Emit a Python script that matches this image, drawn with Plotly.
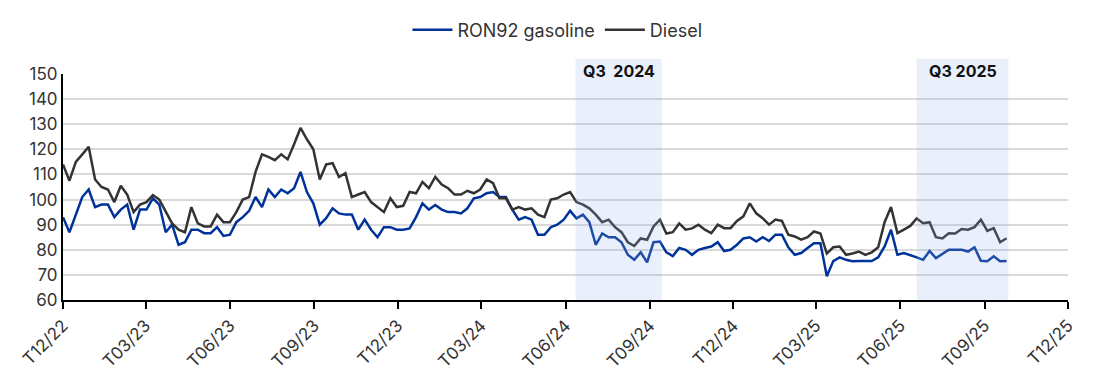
import pandas as pd
import plotly.graph_objects as go

# Weekly observations starting 2022-12-01
start_date = "2022-12-01"

gasoline = [
    93, 87, 94, 101, 104, 97, 98, 98, 93, 96, 98, 88, 96, 96, 100.5, 98, 87, 90, 82, 83,
    88, 88, 86.6, 86.6, 89, 85.5,
    86, 91, 93, 95.5, 101, 97, 104, 101, 104, 102.5, 104.5, 111, 103, 98.5, 90, 92.6, 96.5, 94.5,
    94, 94, 88, 92, 88, 85, 89, 89,
    88, 88, 88.5, 93, 98.5, 96, 97.8, 96, 95, 95, 94.5, 96.5, 100.5, 101, 102.5, 103, 101, 101,
    96, 92, 93, 92, 86, 86, 89,
    90, 92, 95.5, 92.5, 94, 91, 82, 86.5, 85, 85, 83, 78, 76, 79, 75, 83, 83.3, 79, 77.5, 80.7,
    80, 78, 80, 80.7, 81.3, 83,
    79.5, 80, 82, 84.5, 85, 83.3, 85, 83.5, 86, 86, 81, 78, 78.7, 80.7, 82.6, 82.6, 69.5, 75.5,
    77, 76, 75.4, 75.5, 75.5, 75.5, 77,
    81.3, 88, 78, 78.7, 78, 77, 76, 79.5, 76.7, 78.5, 80, 80, 80, 79.3, 81, 75.6, 75.4, 77.4,
    75.4, 75.5,
]

diesel = [
    114, 107.5, 115, 118, 121, 108, 105, 104, 99, 105.5, 102, 95, 98, 99, 101.8, 100, 95.5, 90.5,
    88, 87, 97, 90.5, 89.3, 89.3, 94, 91,
    91, 95, 100, 101, 111, 118, 117, 115.7, 118, 116, 122, 128.5, 124, 120, 108, 114, 114.5, 109,
    110.5, 101, 102, 103, 99, 97, 95, 100.5,
    97, 97.5, 103, 102.5, 107, 104.5, 109, 106, 104.5, 102, 102, 103.5, 102.5, 104, 108, 106.5,
    100.5, 100.5, 96, 97, 96, 96.5, 94, 93, 100,
    100.5, 102, 103, 99, 98, 96.5, 94, 91, 92, 89, 87, 83, 81.5, 84.5, 84, 89.3, 92, 86.5, 87,
    90.5, 88, 88.5, 90, 88, 86.6, 90,
    88.6, 88.6, 91.5, 93.3, 98.5, 94.5, 92.6, 90, 92, 91.5, 86, 85.3, 84, 85, 87.3, 86.5, 78.5,
    81, 81.3, 78, 78.5, 79.3, 78, 79, 81,
    91, 97, 86.6, 88, 89.5, 92.5, 90.6, 91, 85, 84.5, 86.6, 86.5, 88.3, 88, 89, 92, 87.5, 88.6,
    83, 84.6,
]

tick_dates = ["2022-12-01", "2023-03-01", "2023-06-01", "2023-09-01", "2023-12-01",
              "2024-03-01", "2024-06-01", "2024-09-01", "2024-12-01", "2025-03-01",
              "2025-06-01", "2025-09-01", "2025-12-01"]
tick_labels = ["T12/22", "T03/23", "T06/23", "T09/23", "T12/23", "T03/24", "T06/24",
               "T09/24", "T12/24", "T03/25", "T06/25", "T09/25", "T12/25"]

shade_starts = ["2024-06-12", "2025-06-19"]
shade_ends = ["2024-09-14", "2025-09-27"]
shade_labels = ["Q3  2024", "Q3 2025"]

dates = pd.date_range(start_date, periods=len(gasoline), freq="7D")

FONT = "Inter, Roboto, sans-serif"

fig = go.Figure()
fig.add_trace(go.Scatter(x=dates, y=gasoline, mode="lines", name="RON92 gasoline",
                         line=dict(color="#003399", width=2.5)))
fig.add_trace(go.Scatter(x=dates, y=diesel, mode="lines", name="Diesel",
                         line=dict(color="#333333", width=2.5)))

for s, e, lab in zip(shade_starts, shade_ends, shade_labels):
    fig.add_shape(type="rect", xref="x", yref="paper", x0=s, x1=e, y0=0, y1=1.067,
                  fillcolor="rgba(150,180,235,0.2)", line=dict(width=0), layer="above")
    mid = pd.Timestamp(s) + (pd.Timestamp(e) - pd.Timestamp(s)) / 2
    fig.add_annotation(x=mid, xref="x", y=1.012, yref="paper", text="<b>" + lab + "</b>",
                       showarrow=False, font=dict(family=FONT, size=16, color="#111111"),
                       yanchor="middle")

fig.update_layout(
    width=1109, height=391,
    margin=dict(l=63, r=41, t=74, b=91, autoexpand=False),
    paper_bgcolor="white", plot_bgcolor="white",
    font=dict(family=FONT, size=16, color="#333333"),
    showlegend=True,
    legend=dict(orientation="h", x=0.492, xanchor="center", y=1.195, yanchor="middle",
                font=dict(family=FONT, size=18, color="#333333"), itemwidth=40),
)
fig.update_xaxes(
    type="date", range=["2022-12-01", "2025-12-01"],
    tickvals=tick_dates, ticktext=tick_labels, tickangle=-45,
    showline=True, linecolor="black", linewidth=2,
    ticks="outside", ticklen=7, tickwidth=2, tickcolor="black",
    showgrid=False, zeroline=False, automargin=False,
    tickfont=dict(family=FONT, size=17, color="#333333"),
)
fig.update_yaxes(
    range=[60, 150], dtick=10, tick0=60,
    showline=True, linecolor="black", linewidth=2,
    showgrid=True, gridcolor="#d9d9d9", gridwidth=1.5,
    zeroline=False, ticks="", automargin=False,
    tickfont=dict(family=FONT, size=17, color="#333333"),
)

fig.write_html("out.html", config={"displayModeBar": False},
               post_script="document.body.style.margin='0';")
